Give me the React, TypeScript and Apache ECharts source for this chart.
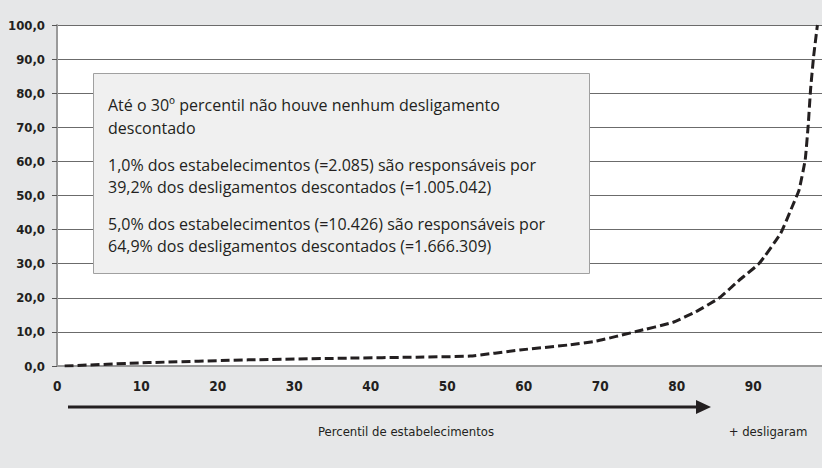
import React, { useEffect, useRef } from "react";
import * as echarts from "echarts";

// Percentile position (x) and cumulative share of discounted layoffs (y, %)
const PERCENTIL = [0, 11, 24, 37, 46, 53, 59.5, 66, 69.5, 74.7, 79.5, 82.5, 85.6, 88.2, 90.8, 93.6, 95.1, 96.0, 96.8, 97.2, 97.5, 97.9, 98.4];
const ACUMULADO = [0, 1.0, 1.8, 2.3, 2.6, 2.9, 4.7, 6.2, 7.3, 10.1, 12.8, 15.9, 20.0, 25.2, 30.1, 38.9, 46.7, 51.6, 60.4, 70.7, 80.9, 90.7, 100];
const X_TICKS = [0, 10, 20, 30, 40, 50, 60, 70, 80, 90];
const BOX_LINES = [
  "Até o 30º percentil não houve nenhum desligamento",
  "descontado",
  "1,0% dos estabelecimentos (=2.085) são responsáveis por",
  "39,2% dos desligamentos descontados (=1.005.042)",
  "5,0% dos estabelecimentos (=10.426) são responsáveis por",
  "64,9% dos desligamentos descontados (=1.666.309)",
];
const X_TITLE = "Percentil de estabelecimentos";
const X_END_LABEL = "+ desligaram";

const AXIS_FONT = "'DejaVu Sans Condensed', sans-serif";
const BODY_FONT = "'Open Sans', 'Noto Sans', sans-serif";
const INK = "#231f20";

export default function App() {
  const ref = useRef<HTMLDivElement>(null);
  useEffect(() => {
    if (!ref.current) return;
    const chart = echarts.init(ref.current, null, { renderer: "svg" });
    const lineY = [105, 128, 165, 187, 224, 246];
    chart.setOption({
      animation: false,
      backgroundColor: "#e6e7e8",
      grid: { left: 57, right: 0, top: 25, bottom: 102, show: true, backgroundColor: "#ffffff", borderWidth: 0 },
      xAxis: {
        type: "value",
        min: -1,
        max: 99,
        axisLine: { show: true, onZero: false, lineStyle: { color: "#9a9a9a", width: 2 } },
        axisTick: { show: false },
        splitLine: { show: false },
        axisLabel: {
          customValues: X_TICKS,
          margin: 13,
          formatter: (v: number) => (v === 0 ? "{z|0}" : "{n|" + v + "}"),
          rich: {
            z: { fontFamily: AXIS_FONT, fontWeight: "bold", fontSize: 13.5, color: INK, padding: [0, 15, 0, 0] },
            n: { fontFamily: AXIS_FONT, fontWeight: "bold", fontSize: 13.5, color: INK },
          },
        },
      },
      yAxis: {
        type: "value",
        min: 0,
        max: 100,
        interval: 10,
        axisLine: { show: true, onZero: false, lineStyle: { color: "#9a9a9a", width: 2 } },
        axisTick: { show: true, length: 5, lineStyle: { color: "#555" } },
        splitLine: { show: true, lineStyle: { color: "#6b6b6b", width: 1 } },
        axisLabel: {
          margin: 12,
          formatter: (v: number) => v.toFixed(1).replace(".", ","),
          fontFamily: AXIS_FONT,
          fontWeight: "bold",
          fontSize: 13,
          color: INK,
        },
      },
      series: [
        {
          type: "line",
          data: PERCENTIL.map((x, i) => [x, ACUMULADO[i]]),
          showSymbol: false,
          smooth: 0.12,
          lineStyle: { color: INK, width: 3, type: [9, 4] },
          z: 5,
        },
      ],
      graphic: [
        {
          type: "rect",
          z: 100,
          shape: { x: 93.5, y: 73.5, width: 496, height: 200 },
          style: { fill: "#f0f0f0", stroke: "#a0a0a0", lineWidth: 1 },
        },
        ...BOX_LINES.map((t, i) => ({
          type: "text",
          z: 101,
          x: 108,
          y: lineY[i],
          style: { text: t, font: `16px ${BODY_FONT}`, fill: INK, textVerticalAlign: "middle" },
        })),
        {
          type: "line",
          z: 100,
          shape: { x1: 68, y1: 407, x2: 698, y2: 407 },
          style: { stroke: INK, lineWidth: 3 },
        },
        {
          type: "polygon",
          z: 100,
          shape: { points: [[696, 400], [711, 407], [696, 414]] },
          style: { fill: INK },
        },
        {
          type: "text",
          z: 100,
          x: 406,
          y: 431,
          style: { text: X_TITLE, font: `13px ${AXIS_FONT}`, fill: INK, textAlign: "center", textVerticalAlign: "middle" },
        },
        {
          type: "text",
          z: 100,
          x: 768,
          y: 431,
          style: { text: X_END_LABEL, font: `13px ${AXIS_FONT}`, fill: INK, textAlign: "center", textVerticalAlign: "middle" },
        },
      ],
    });
    return () => chart.dispose();
  }, []);
  return (
    <div
      ref={ref}
      style={{ position: "absolute", left: 0, top: 0, width: 822, height: 468, background: "#e6e7e8" }}
    />
  );
}
